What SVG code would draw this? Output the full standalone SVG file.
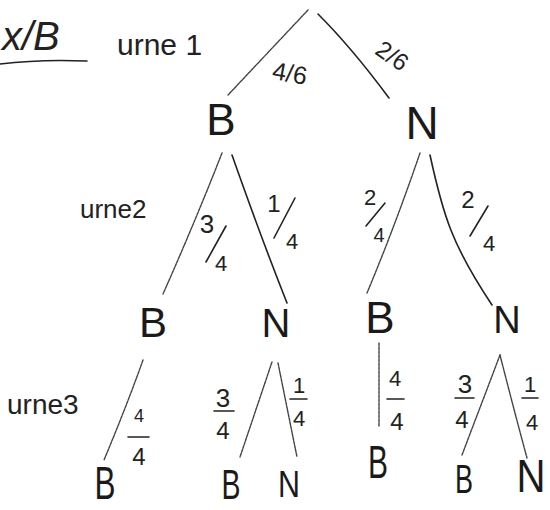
<svg xmlns="http://www.w3.org/2000/svg" width="550" height="510" viewBox="0 0 550 510">
<style>
  .bg{fill:#fff}
  .ln{fill:none;stroke:#222;stroke-width:1.6;stroke-linecap:round}
  .lt{fill:none;stroke:#444;stroke-width:1.4;stroke-linecap:round;stroke-dasharray:3 1}
  .nd{font-family:"Liberation Sans",Arial,sans-serif;fill:#1a1a1a;text-anchor:middle}
  .lb{font-family:"Liberation Sans",Arial,sans-serif;fill:#222}
  .fr{font-family:"Liberation Sans",Arial,sans-serif;fill:#222;text-anchor:middle}
  .bar{stroke:#222;stroke-width:1.6;stroke-linecap:round}
</style>
<rect class="bg" x="0" y="0" width="550" height="510"/>

<g id="annotations">
  <text class="lb" x="2" y="50" font-size="40" font-family="Liberation Serif" font-style="italic">x/B</text>
  <path class="ln" d="M0,64 Q40,59 87,61"/>
  <text class="lb" x="117" y="55" font-size="30">urne 1</text>
  <text class="lb" x="80" y="218" font-size="26">urne2</text>
  <text class="lb" x="7" y="414" font-size="28">urne3</text>
</g>

<g id="connectors">
  <path class="lt" d="M308,10 L228,95"/>
  <path class="ln" d="M318,14 Q352,48 389,98"/>
  <path class="lt" d="M222,153 Q195,222 163,294"/>
  <path class="ln" d="M232,155 Q262,240 287,303"/>
  <path class="lt" d="M420,153 Q395,226 367,293"/>
  <path class="ln" d="M430,155 C443,215 452,245 492,305"/>
  <path class="lt" d="M143,360 Q127,405 104,460"/>
  <path class="lt" d="M272,362 L240,457"/>
  <path class="lt" d="M278,363 L297,457"/>
  <path class="lt" d="M379,343 L379,427"/>
  <path class="lt" d="M500,355 L462,455"/>
  <path class="lt" d="M500,355 Q514,410 527,458"/>

  <g id="p-urne1">
    <text class="fr" x="290" y="82" font-size="25" transform="rotate(10 290 72)">4/6</text>
    <text class="fr" x="392" y="64" font-size="24" transform="rotate(35 392 56)">2/6</text>
  </g>
  <g id="p-urne2">
    <text class="fr" x="207" y="233" font-size="26">3</text>
    <line class="bar" x1="226" y1="226" x2="206" y2="262"/>
    <text class="fr" x="221" y="271" font-size="22">4</text>

    <text class="fr" x="274" y="212" font-size="24">1</text>
    <line class="bar" x1="295" y1="198" x2="274" y2="238"/>
    <text class="fr" x="292" y="249" font-size="22">4</text>

    <text class="fr" x="370" y="205" font-size="22">2</text>
    <line class="bar" x1="385" y1="203" x2="366" y2="226"/>
    <text class="fr" x="379" y="242" font-size="20">4</text>

    <text class="fr" x="468" y="208" font-size="24">2</text>
    <line class="bar" x1="488" y1="206" x2="470" y2="236"/>
    <text class="fr" x="489" y="251" font-size="22">4</text>
  </g>
  <g id="p-urne3">
    <text class="fr" x="139" y="422" font-size="18">4</text>
    <line class="bar" x1="128" y1="437" x2="149" y2="437"/>
    <text class="fr" x="139" y="465" font-size="24">4</text>

    <text class="fr" x="223" y="407" font-size="26">3</text>
    <line class="bar" x1="214" y1="411" x2="234" y2="411"/>
    <text class="fr" x="223" y="439" font-size="24">4</text>

    <text class="fr" x="299" y="393" font-size="22">1</text>
    <line class="bar" x1="290" y1="399" x2="307" y2="399"/>
    <text class="fr" x="299" y="426" font-size="22">4</text>

    <text class="fr" x="395" y="386" font-size="22">4</text>
    <line class="bar" x1="387" y1="399" x2="404" y2="399"/>
    <text class="fr" x="397" y="430" font-size="24">4</text>

    <text class="fr" x="465" y="393" font-size="26">3</text>
    <line class="bar" x1="455" y1="398" x2="474" y2="398"/>
    <text class="fr" x="462" y="428" font-size="24">4</text>

    <text class="fr" x="530" y="392" font-size="22">1</text>
    <line class="bar" x1="522" y1="398" x2="538" y2="398"/>
    <text class="fr" x="532" y="430" font-size="22">4</text>
  </g>
</g>

<g id="n-B1"><text class="nd" x="221" y="135" font-size="44">B</text></g>
<g id="n-N1"><text class="nd" x="422" y="139" font-size="46">N</text></g>

<g id="n-BB"><text class="nd" x="153" y="337" font-size="42">B</text></g>
<g id="n-BN"><text class="nd" x="276" y="337" font-size="40">N</text></g>
<g id="n-NB"><text class="nd" x="380" y="333" font-size="44">B</text></g>
<g id="n-NN"><text class="nd" x="507" y="333" font-size="38">N</text></g>

<g id="n-BBB"><text class="nd" x="105" y="499" font-size="46" textLength="21" lengthAdjust="spacingAndGlyphs">B</text></g>
<g id="n-BNB"><text class="nd" x="231" y="499" font-size="42" textLength="19" lengthAdjust="spacingAndGlyphs">B</text></g>
<g id="n-BNN"><text class="nd" x="289" y="497" font-size="36" textLength="22" lengthAdjust="spacingAndGlyphs">N</text></g>
<g id="n-NBB"><text class="nd" x="378" y="478" font-size="46" textLength="20" lengthAdjust="spacingAndGlyphs">B</text></g>
<g id="n-NNB"><text class="nd" x="464" y="493" font-size="40" textLength="18" lengthAdjust="spacingAndGlyphs">B</text></g>
<g id="n-NNN"><text class="nd" x="531" y="492" font-size="46" textLength="29" lengthAdjust="spacingAndGlyphs">N</text></g>
</svg>
